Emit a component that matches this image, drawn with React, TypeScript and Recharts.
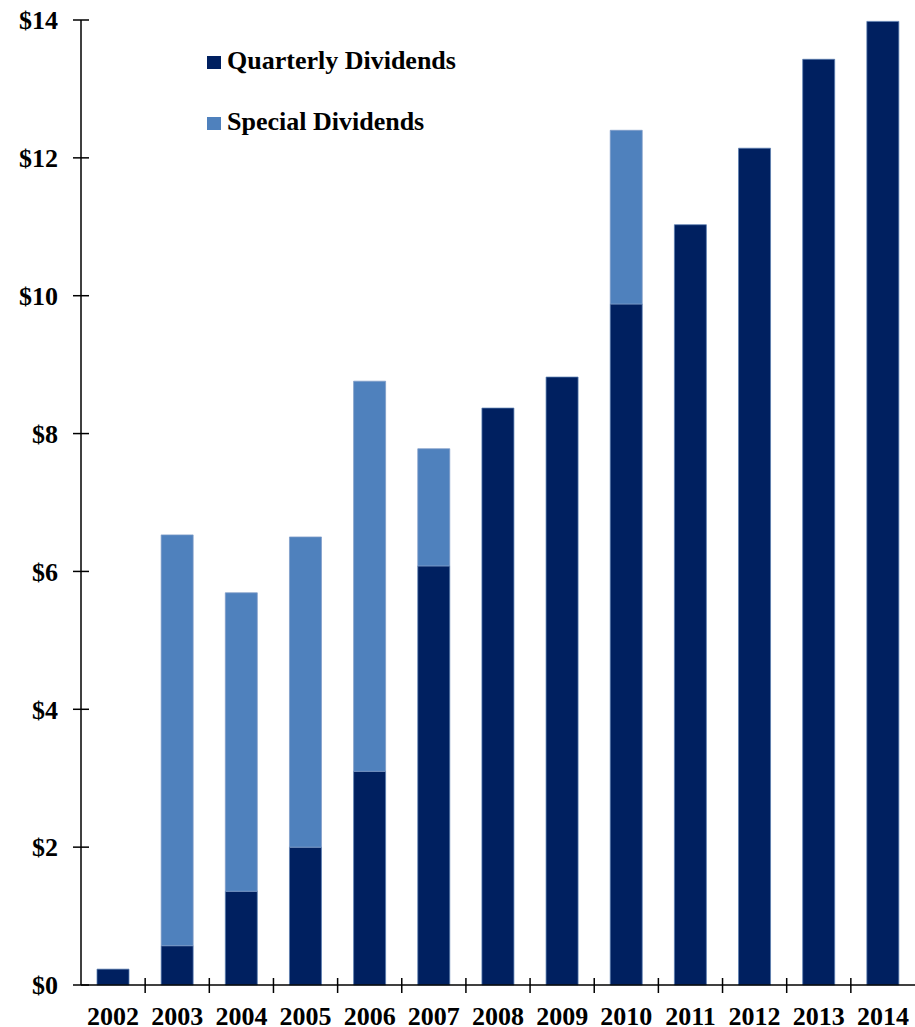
import React from 'react';
import { BarChart, Bar, XAxis, YAxis } from 'recharts';

const years = ['2002', '2003', '2004', '2005', '2006', '2007', '2008', '2009', '2010', '2011', '2012', '2013', '2014'];
const quarterly = [0.23, 0.57, 1.36, 2.0, 3.1, 6.08, 8.37, 8.82, 9.88, 11.03, 12.14, 13.43, 13.98];
const special = [0, 5.96, 4.33, 4.5, 5.66, 1.7, 0, 0, 2.52, 0, 0, 0, 0];
const yTicks = [0, 2, 4, 6, 8, 10, 12, 14];
const legendItems = ['Quarterly Dividends', 'Special Dividends'];

const data = years.map((year, i) => ({
  year,
  quarterly: quarterly[i],
  special: special[i],
}));

const W = 915;
const H = 1027;
const LEFT = 81;
const BAND = (W - LEFT) / years.length;
const FONT = "'Liberation Serif', 'Times New Roman', serif";
const DARK = '#002060';
const LIGHT = '#4f81bd';
const legendColors = [DARK, LIGHT];

const YTick = (props: any) => {
  const { x, y, payload } = props;
  return (
    <g>
      <line x1={x - 8} x2={x + 8} y1={y} y2={y} stroke="#000" strokeWidth={1.5} />
      <text x={x - 23} y={y} dy="0.355em" textAnchor="end" fontFamily={FONT} fontWeight="bold" fontSize={26} fill="#000">
        ${payload.value}
      </text>
    </g>
  );
};

const XTick = (props: any) => {
  const { x, y, payload, index } = props;
  return (
    <g>
      {index > 0 && (
        <line x1={x - BAND / 2} x2={x - BAND / 2} y1={y - 7} y2={y + 8} stroke="#000" strokeWidth={1.5} />
      )}
      <text x={x} y={y + 40} textAnchor="middle" fontFamily={FONT} fontWeight="bold" fontSize={26} fill="#000">
        {payload.value}
      </text>
    </g>
  );
};

const LegendBox = () => (
  <div style={{ position: 'absolute', left: 207, top: 46, fontFamily: FONT, fontWeight: 'bold', fontSize: 26, color: '#000' }}>
    {legendItems.map((label, i) => (
      <div key={label} style={{ lineHeight: '30px', height: 30, marginBottom: i === 0 ? 31 : 0, whiteSpace: 'nowrap' }}>
        <span style={{ display: 'inline-block', width: 14, height: 13, background: legendColors[i], marginRight: 6, verticalAlign: 'baseline' }} />
        {label}
      </div>
    ))}
  </div>
);

export default function App() {
  return (
    <div style={{ position: 'absolute', left: 0, top: 0, width: W, height: H, background: '#fff' }}>
      <BarChart width={W} height={H} data={data} margin={{ top: 20, right: 0, bottom: 0, left: 0 }} barSize={32}>
        <XAxis
          dataKey="year"
          height={42}
          tickSize={0}
          tickMargin={0}
          interval={0}
          axisLine={{ stroke: '#000', strokeWidth: 1.5 }}
          tick={<XTick />}
        />
        <YAxis
          width={LEFT}
          domain={[0, 14]}
          ticks={yTicks}
          tickSize={0}
          tickMargin={0}
          axisLine={{ stroke: '#000', strokeWidth: 1.5 }}
          tick={<YTick />}
        />
        <Bar dataKey="quarterly" stackId="a" fill={DARK} stroke="#5a7db0" strokeWidth={0.75} isAnimationActive={false} />
        <Bar dataKey="special" stackId="a" fill={LIGHT} stroke="#7f9cc8" strokeWidth={0.75} isAnimationActive={false} />
      </BarChart>
      <LegendBox />
    </div>
  );
}
